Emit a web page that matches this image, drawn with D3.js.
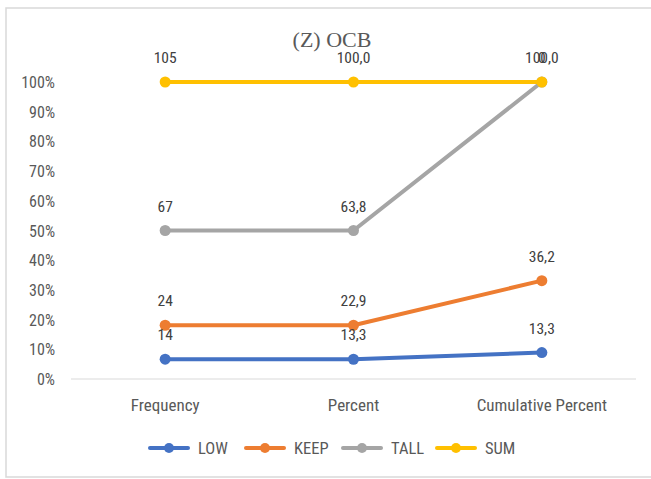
<!DOCTYPE html>
<html>
<head>
<meta charset="utf-8">
<script src="https://cdn.jsdelivr.net/npm/d3@7"></script>
<style>
  body { margin: 0; background: #fff; }
  svg { display: block; }
  text { font-family: "Liberation Sans Narrow", "Roboto Condensed", "Roboto", sans-serif; fill: #595959; }
</style>
</head>
<body>
<svg id="chart" width="651" height="479"></svg>
<script>
const categories = ['Frequency', 'Percent', 'Cumulative Percent']
const seriesNames = ['LOW', 'KEEP', 'TALL', 'SUM']
const LOW = [14, 13.3, 13.3]
const KEEP = [24, 22.9, 36.2]
const TALL = [67, 63.8, 100.0]
const SUM = [105, 100.0, 0]
const yTicks = [0, 0.1, 0.2, 0.3, 0.4, 0.5, 0.6, 0.7, 0.8, 0.9, 1]
const colors = {LOW: '#4472C4', KEEP: '#ED7D31', TALL: '#A5A5A5', SUM: '#FFC000'}

const svg = d3.select('#chart')
const width = 651, height = 479

const rows = categories.map((c, i) => ({cat: c, LOW: LOW[i], KEEP: KEEP[i], TALL: TALL[i], SUM: SUM[i]}))
const stacked = d3.stack().keys(seriesNames).offset(d3.stackOffsetExpand)(rows)

const xScale = d3.scaleBand().domain(categories).range([71, 636])
const yScale = d3.scaleLinear().domain([0, 1]).range([379, 82])

const locale = d3.formatLocale({decimal: ',', thousands: '.', grouping: [3], currency: ['', '']})
const fmt1 = locale.format('.1f')
const label = (v, i) => v === 0 ? '0' : (i === 0 ? String(v) : fmt1(v))

// chart frame
svg.append('rect')
    .attr('x', 6).attr('y', 8)
    .attr('width', 660).attr('height', 469)
    .attr('fill', 'none')
    .attr('stroke', '#d9d9d9')
    .attr('stroke-width', 1.5)

svg.append('text')
    .attr('x', 332).attr('y', 47)
    .attr('text-anchor', 'middle')
    .style('font-family', '"Liberation Serif", serif')
    .style('font-size', '22px')
    .text('(Z) OCB')

// y axis labels
svg.append('g').selectAll('text').data(yTicks).enter().append('text')
    .attr('x', 55)
    .attr('y', d => yScale(d) + 6)
    .attr('text-anchor', 'end')
    .style('font-size', '16px')
    .text(d => d3.format('.0%')(d))

// baseline
svg.append('line')
    .attr('x1', 71).attr('x2', 636)
    .attr('y1', yScale(0)).attr('y2', yScale(0))
    .attr('stroke', '#d9d9d9').attr('stroke-width', 1)

const xAxis = d3.axisBottom(xScale).tickSize(0).tickPadding(0)
const ax = svg.append('g')
    .attr('transform', `translate(0, 411)`)
    .call(xAxis)
ax.select('.domain').remove()
ax.selectAll('text')
    .attr('dy', 0)
    .style('font-size', '17px')
    .style('font-family', '"Liberation Sans Narrow", "Roboto Condensed", "Roboto", sans-serif')
    .attr('fill', '#595959')

const cx = c => xScale(c) + xScale.bandwidth() / 2
const line = d3.line().x(d => cx(d.data.cat)).y(d => yScale(d[1]))

stacked.forEach(s => {
    const g = svg.append('g')
    g.append('path')
        .attr('d', line(s))
        .attr('fill', 'none')
        .attr('stroke', colors[s.key])
        .attr('stroke-width', 4)
        .attr('stroke-linejoin', 'round')
    g.selectAll('circle').data(s).enter().append('circle')
        .attr('cx', d => cx(d.data.cat))
        .attr('cy', d => yScale(d[1]))
        .attr('r', 5.5)
        .attr('fill', colors[s.key])
})

// data labels on top
stacked.forEach(s => {
    svg.append('g').selectAll('text').data(s).enter().append('text')
        .attr('x', d => cx(d.data.cat))
        .attr('y', d => yScale(d[1]) - 19)
        .attr('text-anchor', 'middle')
        .style('font-size', '15.5px')
        .style('fill', '#404040')
        .text((d, i) => label(d.data[s.key], i))
})

// legend
const legendX = [150, 246, 343, 437]
const lg = svg.append('g').selectAll('g').data(seriesNames).enter().append('g')
    .attr('transform', (d, i) => `translate(${legendX[i]}, 448)`)
lg.append('line')
    .attr('x1', 0).attr('x2', 38)
    .attr('stroke', d => colors[d]).attr('stroke-width', 4)
    .attr('stroke-linecap', 'round')
lg.append('circle').attr('cx', 19).attr('r', 5).attr('fill', d => colors[d])
lg.append('text')
    .attr('x', 48).attr('y', 6)
    .style('font-size', '16.5px')
    .text(d => d)
</script>
</body>
</html>
